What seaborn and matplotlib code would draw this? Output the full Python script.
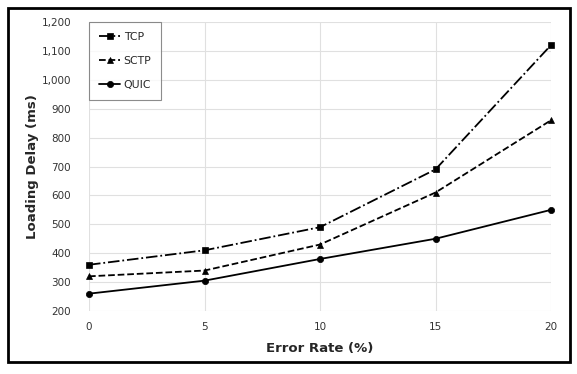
import matplotlib
matplotlib.use("Agg")
import matplotlib.pyplot as plt
import seaborn as sns
import pandas as pd
from matplotlib.patches import Rectangle
from matplotlib.ticker import FuncFormatter

error_rate = [0, 5, 10, 15, 20]
tcp = [360, 410, 490, 690, 1120]
sctp = [320, 340, 430, 610, 860]
quic = [260, 305, 380, 450, 550]
series_names = ["TCP", "SCTP", "QUIC"]

df = pd.DataFrame({
    "Error Rate (%)": error_rate * 3,
    "Loading Delay (ms)": tcp + sctp + quic,
    "Protocol": [n for n in series_names for _ in error_rate],
})

sns.set_style("white")
plt.rcParams["font.family"] = ["DejaVu Sans"]

fig = plt.figure(figsize=(5.77, 3.74), dpi=100)
ax = fig.add_axes([89 / 577, 1 - 311 / 374, 462 / 577, 289 / 374])

styles = {"TCP": ("-.", "s"), "SCTP": ("--", "^"), "QUIC": ("-", "o")}
for name in series_names:
    sub = df[df["Protocol"] == name]
    ls, mk = styles[name]
    sns.lineplot(data=sub, x="Error Rate (%)", y="Loading Delay (ms)", ax=ax,
                 color="black", linestyle=ls, marker=mk, markersize=4.5,
                 markeredgecolor="black", markeredgewidth=0.5,
                 linewidth=1.3, label=name, clip_on=False)

ax.set_xlim(0, 20)
ax.set_ylim(200, 1200)
ax.set_xticks(error_rate)
ax.set_yticks(range(200, 1201, 100))
ax.yaxis.set_major_formatter(FuncFormatter(lambda v, p: f"{int(v):,}"))
ax.grid(True, color="#e0e0e0", linewidth=0.8)
for s in ax.spines.values():
    s.set_visible(False)
ax.tick_params(axis="y", labelsize=7.5, length=0, pad=13, colors="#333333")
ax.tick_params(axis="x", labelsize=7.5, length=0, pad=8, colors="#333333")
ax.set_xlabel("Error Rate (%)", fontsize=9.5, fontweight="bold", labelpad=7)
ax.set_ylabel("Loading Delay (ms)", fontsize=9.5, fontweight="bold", labelpad=2)

leg = ax.legend(loc="upper left", bbox_to_anchor=(0.0, 1.0), fontsize=7.8,
                frameon=True, fancybox=False, edgecolor="#707070",
                handlelength=2.0, handletextpad=0.3, labelspacing=1.3,
                borderpad=0.9, borderaxespad=0.0)
leg.get_frame().set_linewidth(0.8)

fig.patches.append(Rectangle((8 / 577, 1 - 362 / 374), 562 / 577, 354 / 374,
                             transform=fig.transFigure, fill=False,
                             edgecolor="black", linewidth=2))
fig.savefig("out.png", dpi=100)
